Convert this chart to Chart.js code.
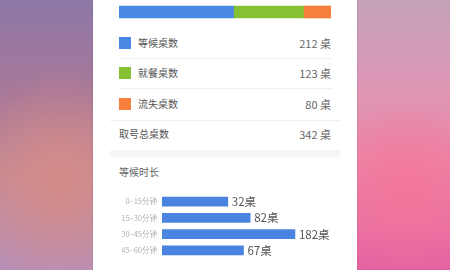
<!DOCTYPE html>
<html>
<head>
<meta charset="utf-8">
<script src="https://cdn.jsdelivr.net/npm/chart.js@4/dist/chart.umd.min.js"></script>
<style>
  html, body { margin: 0; padding: 0; }
  body {
    width: 450px; height: 270px; overflow: hidden; position: relative;
    font-family: "Noto Sans CJK SC", "Noto Sans", sans-serif;
    background:
      radial-gradient(ellipse 90px 110px at 60px 180px, rgba(215,140,135,0.9), rgba(215,140,135,0)),
      radial-gradient(ellipse 110px 120px at 420px 190px, rgba(245,115,155,0.9), rgba(245,115,155,0)),
      linear-gradient(180deg, #8e78a8 0%, #a87898 35%, #c48a94 65%, #b890b8 100%);
  }
  #rightbg {
    position: absolute; left: 357px; top: 0; width: 93px; height: 270px;
    background:
      radial-gradient(ellipse 80px 90px at 50px 190px, rgba(245,115,150,0.8), rgba(245,115,150,0)),
      linear-gradient(180deg, #c4a2b6 0%, #dc98b6 30%, #ec86a8 60%, #e462a2 100%);
  }
  #card {
    position: absolute; left: 93px; top: 0; width: 264px; height: 270px;
    background: #fff; box-shadow: 0 0 2px rgba(0,0,0,0.15);
  }
  .abs { position: absolute; }
  .sq { width: 12px; height: 12px; }
  .name { font-size: 10px; color: #555; line-height: 12px; }
  .val { font-size: 11px; color: #666; line-height: 12px; text-align: right; width: 80px; }
  .sep { height: 1px; background: #efefef; }
</style>
</head>
<body>
<div id="rightbg"></div>
<div id="card"></div>
<div class="abs" style="left:119px;top:5px;width:212px;height:14px;"><canvas id="stackChart"></canvas></div>
<div id="legend"></div>
<div class="abs sep" style="left:110px;top:120px;width:230px;"></div>
<div class="abs" style="left:119px;top:128px;font-size:10px;color:#555;line-height:12px;">取号总桌数</div>
<div class="abs val" id="totalVal" style="left:251px;top:128px;"></div>
<div class="abs" style="left:110px;top:150px;width:230px;height:7px;background:#f6f6f6;"></div>
<div class="abs" style="left:119px;top:166px;font-size:10px;color:#666;line-height:12px;">等候时长</div>
<div class="abs" style="left:110px;top:184px;width:240px;height:84px;"><canvas id="waitChart"></canvas></div>
<script>
// 取号统计
var statNames = ['等候桌数', '就餐桌数', '流失桌数'];
var statValues = [212, 123, 80];
var statColors = ['#4b87e5', '#84c234', '#f7813c'];
var totalTables = 342;
// stacked bar segment shares as drawn (percent)
var stackShares = [54, 33, 13];

// 等候时长
var waitLabels = ['0–15分钟', '15–30分钟', '30–45分钟', '45–60分钟'];
var waitValues = [32, 82, 182, 67];

// legend rows
var legend = document.getElementById('legend');
var rowTops = [37, 67, 98];
for (var i = 0; i < statNames.length; i++) {
    var t = rowTops[i];
    legend.innerHTML +=
        '<div class="abs sq" style="left:119px;top:' + t + 'px;background:' + statColors[i] + '"></div>' +
        '<div class="abs name" style="left:138px;top:' + t + 'px;">' + statNames[i] + '</div>' +
        '<div class="abs val" style="left:251px;top:' + t + 'px;">' + statValues[i] + ' 桌</div>';
    if (i < 2) {
        legend.innerHTML += '<div class="abs sep" style="left:119px;top:' + (t + 21) + 'px;width:213px;"></div>';
    }
}
document.getElementById('totalVal').textContent = totalTables + ' 桌';

// Stacked share bar
new Chart(document.getElementById('stackChart').getContext('2d'), {
    type: 'bar',
    data: {
        labels: ['取号'],
        datasets: statNames.map(function (n, i) {
            return {
                label: n,
                data: [stackShares[i]],
                backgroundColor: statColors[i],
                borderWidth: 0,
                barThickness: 12
            };
        })
    },
    options: {
        indexAxis: 'y',
        responsive: true,
        maintainAspectRatio: false,
        animation: false,
        layout: { padding: 0 },
        plugins: { legend: { display: false }, tooltip: { enabled: false } },
        scales: {
            x: { stacked: true, display: false, min: 0, max: 100 },
            y: { stacked: true, display: false }
        }
    }
});

// value labels after bars
var barValueLabels = {
    id: 'barValueLabels',
    afterDatasetsDraw: function (chart) {
        var ctx = chart.ctx;
        var meta = chart.getDatasetMeta(0);
        ctx.save();
        ctx.font = '11.5px "Noto Sans CJK SC", sans-serif';
        ctx.fillStyle = '#555';
        ctx.textBaseline = 'middle';
        ctx.textAlign = 'left';
        meta.data.forEach(function (bar, i) {
            ctx.fillText(waitValues[i] + '桌', bar.x + 4, bar.y);
        });
        ctx.restore();
    }
};

var axisMin = -115;
new Chart(document.getElementById('waitChart').getContext('2d'), {
    type: 'bar',
    data: {
        labels: waitLabels,
        datasets: [{
            data: waitValues,
            base: axisMin,
            backgroundColor: '#4a84e0',
            borderWidth: 0,
            barThickness: 9
        }]
    },
    options: {
        indexAxis: 'y',
        responsive: true,
        maintainAspectRatio: false,
        animation: false,
        layout: { padding: 0 },
        plugins: { legend: { display: false }, tooltip: { enabled: false } },
        scales: {
            x: { display: false, min: axisMin, max: 305 },
            y: {
                grid: { display: false, drawTicks: false },
                border: { display: false },
                afterFit: function (scale) { scale.width = 52; },
                ticks: {
                    padding: 5,
                    color: '#b0b0b0',
                    font: { size: 7.5, family: '"Noto Sans CJK SC", sans-serif' }
                }
            }
        }
    },
    plugins: [barValueLabels]
});
</script>
</body>
</html>
